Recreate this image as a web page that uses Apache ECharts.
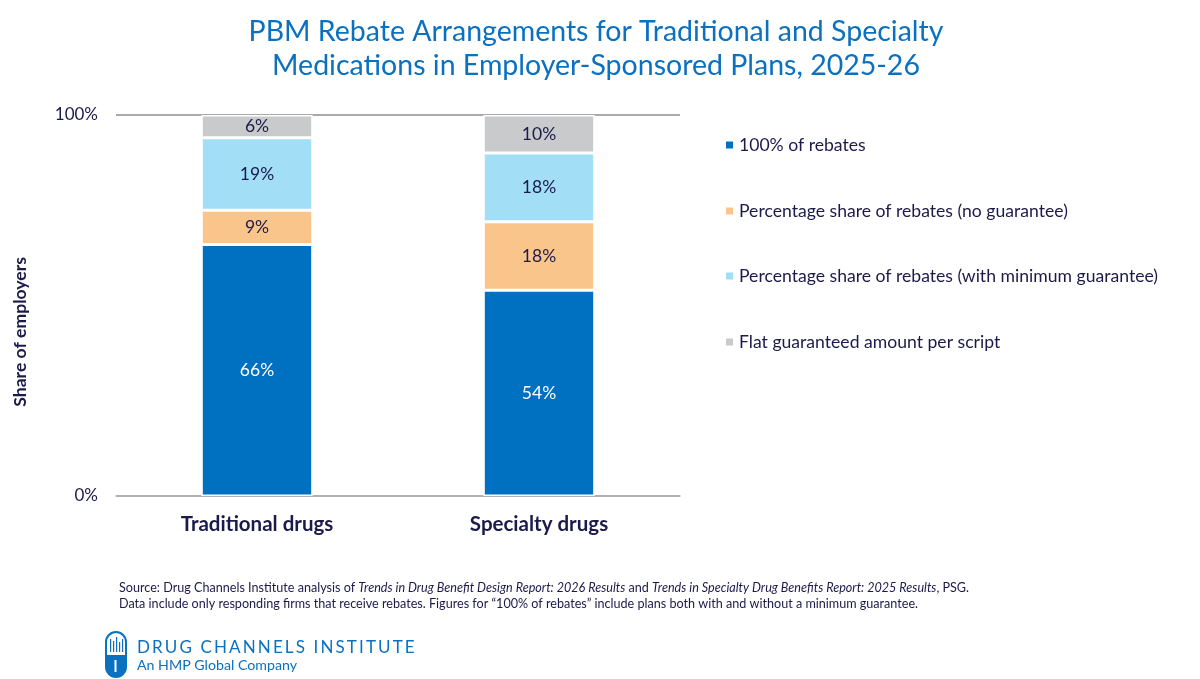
<!DOCTYPE html>
<html>
<head>
<meta charset="utf-8">
<script src="https://cdn.jsdelivr.net/npm/echarts@6/dist/echarts.min.js"></script>
<style>html,body{margin:0;padding:0;background:#fff;}#main{width:1200px;height:679px;}</style>
</head>
<body>
<div id="main"></div>
<script>
const categories = ['Traditional drugs', 'Specialty drugs'];
const seriesNames = ['100% of rebates', 'Percentage share of rebates (no guarantee)', 'Percentage share of rebates (with minimum guarantee)', 'Flat guaranteed amount per script'];
const full100 = [66, 54];
const shareNoGuarantee = [9, 18];
const shareMinGuarantee = [19, 18];
const flatPerScript = [6, 10];
const yTicks = [0, 100];

const colors = ['#0070C0', '#FAC58A', '#A2DFF7', '#C9CACC'];
const labelColors = ['#ffffff', '#1B1A4A', '#1B1A4A', '#1B1A4A'];
const seriesData = [full100, shareNoGuarantee, shareMinGuarantee, flatPerScript];
const FONT = 'Lato, "Open Sans", sans-serif';
const navy = '#1B1A4A';
const HS = '\u2009';

const chart = echarts.init(document.getElementById('main'));
const legendTops = [131, 197, 262, 328];
const option = {
  animation: false,
  textStyle: { fontFamily: FONT },
  title: {
    text: 'PBM Rebate Arrangements for Traditional and Specialty\nMedications in Employer-Sponsored Plans, 2025-26',
    left: 591, top: 10, textAlign: 'center',
    textStyle: { fontFamily: FONT, fontSize: 28.5, fontWeight: 'normal', color: '#0A70C0', lineHeight: 34 }
  },
  legend: seriesNames.map((n, i) => ({
    data: [n], left: 719, top: legendTops[i], orient: 'vertical',
    icon: 'rect', itemWidth: 9, itemHeight: 9, itemGap: 8,
    textStyle: { fontFamily: FONT, fontSize: 17.6, color: navy }
  })),
  grid: { left: 116, right: 520, top: 115, bottom: 183, containLabel: false },
  xAxis: {
    type: 'category', data: categories,
    axisLine: { show: true, lineStyle: { color: '#B4B4B4', width: 1.5 } },
    axisTick: { show: false },
    axisLabel: { margin: 18, fontFamily: FONT, fontSize: 20.5, fontWeight: 'bold', color: navy }
  },
  yAxis: {
    type: 'value', min: 0, max: 100, interval: 100,
    axisLine: { show: false }, axisTick: { show: false },
    splitLine: { show: true, lineStyle: { color: '#8C8C8C', width: 1.5 } },
    axisLabel: { formatter: v => yTicks.includes(v) ? v + '%' : '', margin: 18, fontFamily: FONT, fontSize: 17, color: navy }
  },
  series: seriesData.map((d, i) => ({
    name: seriesNames[i], type: 'bar', stack: 'total', data: d,
    barWidth: '39.5%',
    itemStyle: { color: colors[i], borderColor: '#ffffff', borderWidth: 1.5 },
    label: { show: true, position: 'inside', formatter: '{c}%', fontFamily: FONT, fontSize: 17.5, color: labelColors[i] }
  })),
  graphic: [
    { type: 'text', left: 11, top: 257, rotation: Math.PI / 2,
      style: { text: 'Share of employers', font: 'bold 17.6px ' + FONT, fill: navy } },
    { type: 'text', left: 119, top: 581,
      style: {
        rich: {
          n: { fontFamily: FONT, fontSize: 12.6, fill: navy, lineHeight: 16.5 },
          i: { fontFamily: FONT, fontSize: 12.6, fill: navy, fontStyle: 'italic', lineHeight: 16.5 }
        },
        text: '{n|Source: Drug Channels Institute analysis of }{i|Trends in Drug Benefit Design Report: 2026 Results}{n| and }{i|Trends in Specialty Drug Benefits Report: 2025 Results}{n|, PSG.}\n{n|Data include only responding firms that receive rebates. Figures for \u201c100% of rebates\u201d include plans both with and without a minimum guarantee.}'
      } },
    { type: 'rect', shape: { x: 106, y: 632, width: 20, height: 45, r: 10 }, style: { fill: '#fff', stroke: '#0A70C0', lineWidth: 2 } },
    { type: 'rect', shape: { x: 106, y: 655, width: 20, height: 22, r: [0, 0, 10, 10] }, style: { fill: '#0A70C0' } },
    { type: 'rect', shape: { x: 114.5, y: 660, width: 2, height: 12 }, style: { fill: '#fff' } },
    { type: 'rect', shape: { x: 110, y: 639, width: 1.2, height: 13 }, style: { fill: '#0A70C0' } },
    { type: 'rect', shape: { x: 113, y: 641, width: 1.2, height: 11 }, style: { fill: '#0A70C0' } },
    { type: 'rect', shape: { x: 116, y: 637, width: 1.2, height: 15 }, style: { fill: '#0A70C0' } },
    { type: 'rect', shape: { x: 119, y: 642, width: 1.2, height: 10 }, style: { fill: '#0A70C0' } },
    { type: 'rect', shape: { x: 122, y: 639, width: 1.2, height: 13 }, style: { fill: '#0A70C0' } },
    { type: 'text', left: 137, top: 639,
      style: { text: 'DRUG CHANNELS INSTITUTE'.split('').join(HS), font: '17px ' + FONT, fill: '#0A70C0' } },
    { type: 'text', left: 137, top: 658,
      style: { text: 'An HMP Global Company', font: '14.2px ' + FONT, fill: '#0A70C0' } }
  ]
};
chart.setOption(option);
</script>
</body>
</html>
